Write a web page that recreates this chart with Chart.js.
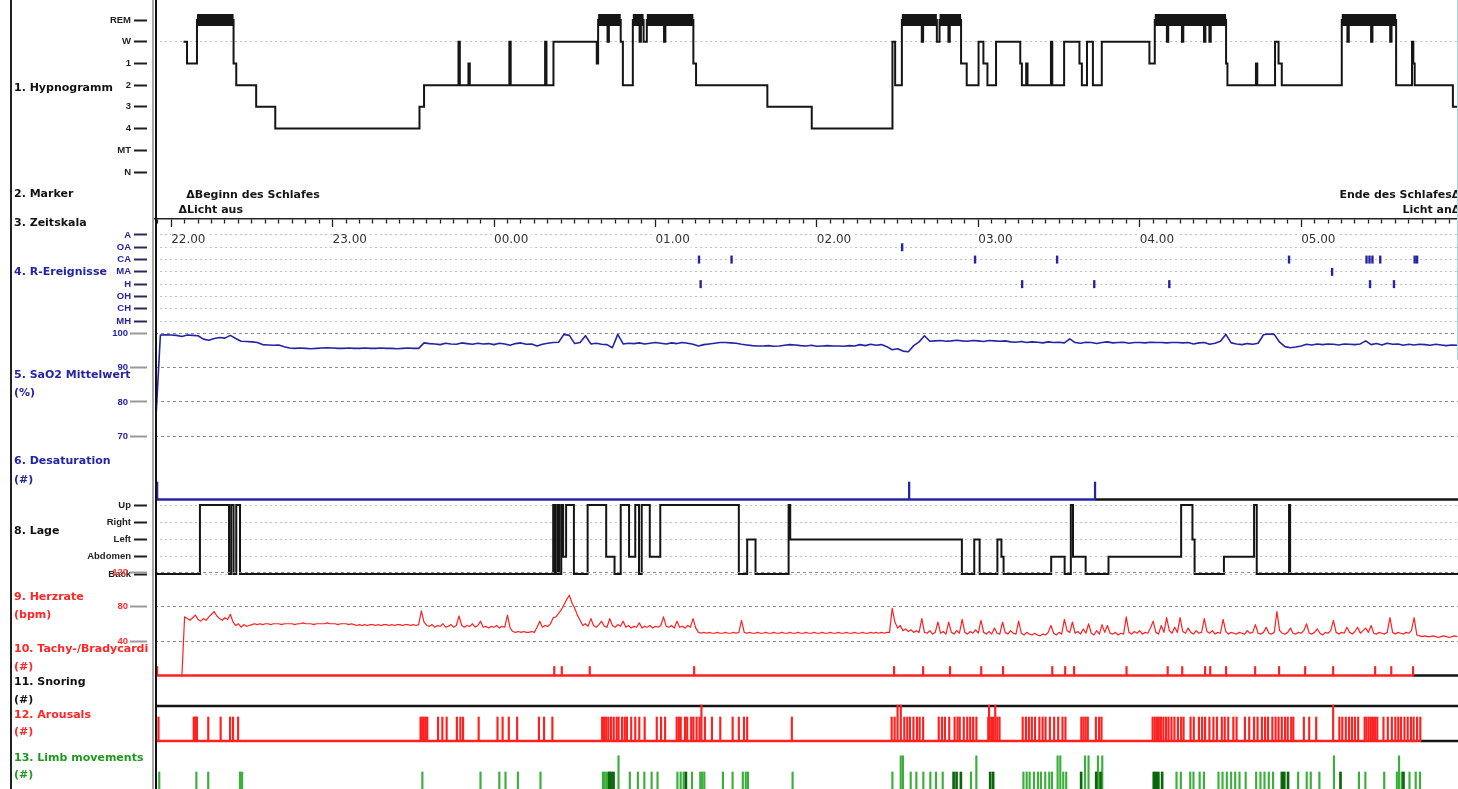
<!DOCTYPE html>
<html lang="de">
<head>
<meta charset="utf-8">
<title>Polysomnographie – Nachtübersicht</title>
<script src="https://cdn.jsdelivr.net/npm/chart.js@4.4.1/dist/chart.umd.min.js"></script>
<style>
  html, body { margin: 0; padding: 0; background: #fff; }
  #sheet { position: relative; width: 1458px; height: 789px; overflow: hidden; background: #fff; }
  #sheet canvas { position: absolute; left: 0; }
  .rule { position: absolute; top: 0; height: 789px; z-index: 8; }
  .track { position: absolute; left: 14px; width: 134px; overflow: hidden; white-space: nowrap;
           font: bold 11px "DejaVu Sans", sans-serif; line-height: 14px; z-index: 9; }
  .blk { color: #111; } .blu { color: #2424a4; } .red { color: #ff2626; } .grn { color: #1f991f; }
</style>
</head>
<body>
<div id="sheet">
  <div class="rule" style="left:10px;width:1.5px;background:#222"></div>
  <div class="rule" style="left:152px;width:2px;background:#a8a8a8"></div>
  <div class="rule" style="left:155px;width:2px;background:#111"></div>
  <div class="rule" style="left:1457px;width:1px;height:360px;background:#9fdde4"></div>

  <div class="track blk" style="top:81px">1. Hypnogramm</div>
  <div class="track blk" style="top:187px">2. Marker</div>
  <div class="track blk" style="top:216px">3. Zeitskala</div>
  <div class="track blu" style="top:265px">4. R-Ereignisse</div>
  <div class="track blu" style="top:368px">5. SaO2 Mittelwert</div>
  <div class="track blu" style="top:386px">(%)</div>
  <div class="track blu" style="top:454px">6. Desaturation</div>
  <div class="track blu" style="top:473px">(#)</div>
  <div class="track blk" style="top:524px">8. Lage</div>
  <div class="track red" style="top:590px">9. Herzrate</div>
  <div class="track red" style="top:608px">(bpm)</div>
  <div class="track red" style="top:642px">10. Tachy-/Bradycardie</div>
  <div class="track red" style="top:660px">(#)</div>
  <div class="track blk" style="top:675px">11. Snoring</div>
  <div class="track blk" style="top:693px">(#)</div>
  <div class="track red" style="top:708px">12. Arousals</div>
  <div class="track red" style="top:725px">(#)</div>
  <div class="track grn" style="top:751px">13. Limb movements</div>
  <div class="track grn" style="top:768px">(#)</div>
</div>

<script>
// All times are minutes after 22:00.
const timeMin = -6;
const timeMax = 478.3;

// 1. Hypnogramm: start of each scored segment and its stage
const stageNames = ['N', 'MT', '4', '3', '2', '1', 'W', 'REM'];
const hypTimes = [4.6, 5.9, 9.6, 23.2, 24.2, 31.6, 38.7, 92.3, 94.0,
  106.8, 107.3, 110.5, 111.0, 125.7, 126.2, 139.0, 139.5,
  142.1, 158.2, 158.7, 162.2, 162.7, 167.1, 167.9,
  171.6, 174.1, 174.6, 175.6, 176.8, 183.2, 183.7,
  194.1, 195.1, 221.6, 238.1, 268.1, 269.1,
  271.6, 279.0, 279.5, 284.6, 285.6, 288.9, 289.4,
  293.6, 295.7, 300.1, 301.9, 303.4, 306.6, 315.6, 316.2,
  317.8, 318.3, 327.0, 327.5, 331.9, 337.6, 338.5, 340.4,
  342.6, 345.9, 363.6, 365.6, 370.1, 370.6, 375.7, 376.2,
  383.9, 384.4, 385.9, 386.4, 392.1, 392.6, 403.2, 403.7,
  410.3, 411.6, 412.8, 435.1, 437.2, 437.7, 446.0, 446.5,
  453.1, 453.6, 455.3, 461.2, 461.7, 462.2, 476.4];
const hypStages = ['W', '1', 'REM', '1', '2', '3', '4', '3', '2',
  'W', '2', '1', '2', 'W', '2', 'W', '2',
  'W', '1', 'REM', 'W', 'REM', 'W', '2',
  'REM', 'W', 'REM', 'W', 'REM', 'W', 'REM',
  '1', '2', '3', '4', 'W', '2',
  'REM', 'W', 'REM', 'W', 'REM', 'W', 'REM',
  '1', '2', 'W', '1', '2', 'W', '1', '2',
  '1', '2', 'W', '2', 'W', '1', '2', 'W',
  '2', 'W', '1', 'REM', 'W', 'REM', 'W', 'REM',
  'W', 'REM', 'W', 'REM', '1', '2', '1', '2',
  'W', '1', '2', 'REM', 'W', 'REM', 'W', 'REM',
  'W', 'REM', '2', 'W', '1', '2', '3'];

// 2. Marker
const sleepMarkTimes = [7.2, 477.6];
const sleepMarkTexts = ['Beginn des Schlafes', 'Ende des Schlafes'];
const lightMarkTimes = [4.3, 477.6];
const lightMarkTexts = ['Licht aus', 'Licht an'];

// 4. R-Ereignisse (respiratory events per type)
const respTypes = ['MH', 'CH', 'OH', 'H', 'MA', 'CA', 'OA', 'A'];
const eventsA = [];
const eventsOA = [271.7];
const eventsCA = [196.2, 208.3, 298.8, 329.3, 415.5, 444.3, 445.4, 446.5, 449.4, 462.2, 463.1];
const eventsMA = [431.5];
const eventsH = [196.8, 316.3, 343.1, 371.0, 445.6, 454.5];
const eventsOH = [];
const eventsCH = [];
const eventsMH = [];

// 5. SaO2 mean (%), one value every 2 minutes from saStart
const saStart = -6;
const saStep = 2;
const saValues = [
  70, 99.6, 99.7, 99.6, 99.5, 99.2, 99.6, 99.5, 99.4, 98.4,
  98.1, 98.6, 98.9, 98.7, 99.5, 98.6, 97.8, 97.7, 97.6, 97.4,
  96.8, 96.7, 96.6, 96.7, 96.2, 95.8, 95.7, 95.8, 95.7, 95.6,
  95.7, 95.8, 95.9, 95.8, 95.7, 95.7, 95.8, 95.7, 95.7, 95.8,
  95.7, 95.7, 95.8, 95.7, 95.7, 95.6, 95.7, 95.8, 95.7, 95.7,
  97.3, 97.1, 97.0, 96.8, 97.2, 97.0, 96.9, 97.3, 97.1, 96.9,
  97.2, 97.0, 97.1, 96.8, 97.2, 97.0, 96.6, 97.1, 97.3, 96.9,
  97.0, 96.4, 96.9, 97.2, 97.4, 97.5, 99.8, 99.5, 97.1, 97.4,
  99.4, 97.0, 97.2, 96.9, 96.8, 95.9, 99.8, 97.0, 97.2, 97.1,
  97.3, 97.0, 97.2, 97.4, 97.2, 97.0, 97.3, 97.1, 97.4, 97.2,
  96.9, 96.4, 96.8, 97.0, 97.2, 97.4, 97.4, 97.3, 97.2, 96.9,
  96.7, 96.5, 96.4, 96.4, 96.5, 96.3, 96.4, 96.6, 96.8, 96.7,
  96.5, 96.4, 96.6, 96.3, 96.4, 96.5, 96.4, 96.4, 96.3, 96.5,
  96.4, 96.8, 96.5, 96.9, 96.6, 96.8, 96.2, 95.3, 95.6, 94.9,
  94.7, 96.5, 97.6, 99.4, 97.8, 97.9, 98.0, 97.8, 97.9, 98.1,
  97.9, 97.8, 98.0, 97.9, 97.7, 98.0, 97.9, 97.8, 97.9, 97.6,
  97.5, 97.7, 97.4, 97.6, 97.5, 97.3, 97.6, 97.4, 97.5, 97.3,
  98.5, 97.4, 97.2, 97.5, 97.4, 97.1, 97.4, 97.6, 97.3, 97.4,
  97.5, 97.2, 97.4, 97.4, 97.3, 97.5, 97.4, 97.4, 97.3, 97.4,
  97.4, 97.3, 97.4, 97.0, 97.3, 97.4, 96.9, 97.2, 97.8, 99.8,
  97.3, 97.0, 96.8, 97.1, 96.9, 97.2, 99.7, 99.9, 99.8, 97.5,
  96.2, 95.9, 96.1, 96.4, 96.9, 96.7, 97.0, 96.8, 97.0, 96.9,
  96.7, 97.0, 96.9, 96.8, 97.0, 97.9, 96.8, 97.1, 96.7, 97.2,
  96.9, 97.0, 96.6, 96.9, 96.7, 96.9, 96.8, 96.6, 96.9, 96.7,
  96.5, 96.7, 96.6];

// 6. Desaturation events
const desatTimes = [-5.2, 274.3, 343.4];

// 8. Lage (body position): start of each position
const positionNames = ['Back', 'Abdomen', 'Left', 'Right', 'Up'];
const lageTimes = [-6, 10.7, 21.5, 22.3, 23.2, 24.2, 25.6, 142.0, 142.7, 143.5,
  144.2, 145.0, 145.7, 146.8, 149.7, 154.8, 161.7, 164.8, 167.1, 170.2,
  172.5, 173.9, 174.9, 177.9, 181.8, 211.0, 214.1, 217.2, 229.5, 230.1,
  293.9, 298.5, 300.5, 307.1, 308.6, 309.4, 327.1, 332.1, 334.4, 335.2,
  339.9, 348.4, 375.4, 379.6, 380.4, 391.3, 402.5, 403.5, 415.5, 415.9];
const lagePositions = ['Back', 'Up', 'Back', 'Up', 'Back', 'Up', 'Back', 'Up', 'Back', 'Up',
  'Back', 'Up', 'Abdomen', 'Up', 'Back', 'Up', 'Abdomen', 'Back', 'Up', 'Abdomen',
  'Up', 'Back', 'Up', 'Abdomen', 'Up', 'Back', 'Left', 'Back', 'Up', 'Left',
  'Back', 'Left', 'Back', 'Left', 'Abdomen', 'Back', 'Abdomen', 'Back', 'Up', 'Abdomen',
  'Back', 'Abdomen', 'Up', 'Left', 'Back', 'Abdomen', 'Up', 'Back', 'Up', 'Back'];

// 9. Herzrate (bpm), one value per minute from hrStart
const hrStart = -6;
const hrStep = 1;
const hrValues = [
  0, 0, 0, 0, 0, 0, 0, 0, 0, 0,
  0, 68, 66, 64, 67, 70, 65, 63, 66, 64,
  68, 71, 74, 69, 66, 64, 67, 65, 71, 62,
  58, 60, 56, 59, 57, 58, 59, 60, 59, 60,
  59, 60, 60, 59, 60, 60, 60, 59, 60, 60,
  60, 60, 59, 60, 60, 61, 60, 60, 60, 59,
  60, 60, 60, 60, 61, 60, 60, 60, 59, 60,
  60, 60, 59, 60, 59, 58, 59, 58, 59, 58,
  59, 59, 58, 59, 58, 59, 59, 58, 59, 58,
  59, 59, 58, 59, 59, 58, 59, 58, 59, 75,
  62, 58, 57, 59, 56, 58, 57, 60, 56, 57,
  59, 56, 58, 69, 58, 56, 58, 57, 60, 56,
  58, 63, 56, 57, 55, 57, 56, 58, 55, 57,
  56, 70, 55, 51, 50, 51, 50, 51, 50, 50,
  51, 50, 56, 63, 56, 58, 57, 60, 67, 68,
  72, 76, 82, 88, 93, 84, 78, 70, 64, 58,
  60, 57, 66, 58, 56, 59, 63, 57, 56, 66,
  58, 56, 59, 57, 63, 56, 58, 55, 57, 56,
  61, 55, 57, 56, 58, 55, 57, 56, 58, 68,
  57, 56, 58, 55, 63, 56, 57, 55, 58, 56,
  66, 55, 50, 49, 50, 49, 50, 49, 49, 50,
  49, 49, 50, 49, 49, 50, 49, 50, 64, 50,
  49, 50, 49, 49, 50, 49, 49, 50, 49, 49,
  50, 49, 49, 50, 49, 49, 50, 49, 49, 50,
  49, 49, 50, 49, 49, 50, 49, 49, 50, 49,
  49, 50, 49, 49, 50, 49, 49, 50, 49, 49,
  50, 49, 49, 50, 49, 49, 50, 49, 50, 49,
  50, 49, 50, 50, 78, 62, 55, 58, 52, 54,
  51, 53, 50, 52, 50, 66, 50, 49, 52, 48,
  50, 62, 49, 51, 48, 62, 50, 48, 52, 49,
  65, 50, 48, 51, 49, 53, 49, 64, 50, 48,
  51, 48, 55, 49, 48, 62, 50, 48, 52, 49,
  48, 63, 49, 47, 50, 48, 47, 49, 47, 46,
  48, 47, 50, 58, 49, 47, 50, 48, 65, 52,
  50, 62, 49, 51, 48, 54, 49, 60, 49, 47,
  52, 48, 59, 50, 58, 49, 48, 50, 47, 49,
  48, 68, 50, 48, 51, 49, 52, 48, 50, 49,
  55, 63, 50, 48, 58, 50, 67, 52, 49, 56,
  50, 67, 51, 49, 55, 50, 48, 52, 49, 50,
  66, 51, 49, 52, 48, 50, 49, 65, 51, 48,
  50, 49, 48, 50, 49, 48, 52, 49, 50, 59,
  49, 48, 50, 56, 49, 48, 50, 74, 52, 49,
  48, 50, 55, 49, 48, 50, 49, 52, 60, 49,
  48, 50, 54, 49, 47, 50, 49, 52, 64, 50,
  48, 50, 49, 56, 50, 48, 51, 56, 49, 52,
  55, 50, 58, 49, 48, 50, 49, 48, 50, 67,
  50, 48, 50, 49, 48, 50, 49, 52, 67, 47,
  46, 45, 46, 45, 45, 46, 45, 44, 45, 46,
  45, 44, 45, 46, 45];

// 10. Tachy-/Bradycardie events
const tachyTimes = [-5.2, 142.4, 145.2, 155.6, 194.4, 268.7, 279.5, 289.5, 301.1, 309.2,
  327.5, 332.3, 335.6, 355.1, 370.4, 375.8, 384.3, 386.2, 392.1, 402.9,
  411.8, 421.5, 431.9, 447.5, 453.5, 461.6];

// 11. Snoring events
const snoringTimes = [];

// 12. Arousals (regular and long markers)
const arousalTimes = [-4.7, 8.4, 8.8, 9.3, 9.6, 13.8, 18.4, 21.9, 23.0, 24.9,
  92.7, 93.3, 93.9, 94.6, 95.2, 99.2, 100.8, 102.4, 106.2, 107.5, 108.5, 114.3,
  121.3, 123.2, 125.5, 128.6, 136.7, 138.6, 141.7,
  160.2, 160.9, 161.7, 162.5, 163.5, 164.5, 165.6, 166.3, 167.6, 168.6, 169.4,
  171.0, 172.5, 174.0, 176.0, 180.5, 182.1, 183.6,
  187.9, 188.7, 189.4, 191.0, 191.8, 193.3, 194.1, 195.3, 196.4, 198.4,
  201.0, 204.1, 208.7, 211.0, 212.9, 214.1, 230.7,
  267.8, 268.9, 272.5, 273.6, 274.6, 275.9, 277.2, 278.2, 279.5,
  285.3, 286.5, 287.6, 289.2, 291.2, 292.3, 293.1, 294.6, 295.9, 297.0, 298.1, 299.3,
  303.7, 304.8, 305.5, 307.1, 307.9,
  316.5, 317.7, 318.8, 319.9, 321.1, 322.7, 323.9, 325.0, 326.6, 328.2, 329.7, 331.3, 332.4,
  338.3, 339.1, 339.9, 340.7, 343.7, 344.9, 345.8,
  364.8, 365.6, 366.4, 367.1, 367.9, 368.8, 369.8, 370.7, 371.8, 372.9, 374.2, 375.4, 376.3,
  378.9, 380.1, 382.0, 383.2, 384.3, 385.9, 387.4, 388.7, 390.5, 391.6, 392.9, 394.8, 396.0,
  399.1, 400.7, 402.5, 403.8, 405.4, 406.6, 407.7, 409.3, 410.5, 411.6, 412.8, 414.0, 415.0,
  416.3, 417.1, 421.0, 423.0, 425.6,
  434.2, 435.3, 436.6, 437.8, 438.9, 440.0, 441.2, 443.6, 444.3, 445.1, 445.9, 446.7, 447.5,
  448.3, 450.6, 452.2, 453.7, 455.0, 456.1, 457.1, 458.4, 459.6, 460.8, 461.8, 463.1, 464.3];
const arousalLongTimes = [197.1, 270.0, 271.2, 304.0, 306.3, 431.9];

// 13. Limb movements (regular, long and dense clusters)
const limbTimes = [-4.7, 9.1, 13.5, 25.3, 26.1, 93.1, 114.7, 121.7, 124.0, 128.6, 137.0,
  160.2, 160.9, 161.7, 162.5, 170.2, 173.2, 175.6, 178.3, 180.5,
  187.9, 189.1, 190.2, 193.3, 196.4, 197.1, 197.9, 204.8, 208.4, 212.2, 213.3, 214.1, 230.7,
  267.8, 274.6, 276.7, 279.3, 281.9, 284.0, 286.5, 297.0,
  316.5, 317.7, 318.8, 320.4, 321.9, 323.0, 324.6, 326.1, 327.1, 331.3, 332.4,
  373.4, 375.0, 378.5, 379.7, 382.0, 383.6, 389.0, 390.5, 392.1, 393.7, 395.2, 396.8, 399.1,
  403.0, 404.6, 406.1, 407.7, 409.3, 418.6, 421.8, 423.3, 426.5,
  441.2, 443.6, 450.6, 455.3, 457.1, 460.0, 462.3, 463.9];
const limbLongTimes = [166.0, 270.9, 271.7, 299.0, 329.2, 330.2, 339.4, 340.7, 344.2, 345.8, 431.9, 456.1];
const limbDenseTimes = [163.2, 164.0, 164.8, 191.7, 291.2, 292.3, 293.9, 304.8, 305.9, 338.6,
  344.2, 345.8, 365.6, 366.4, 367.3, 368.7, 413.2, 414.1, 415.5, 435.0, 458.4];

// ---------------------------------------------------------------------------
const BLUE = '#2424a4';
const RED = '#ff2020';
const INK = '#151515';
const tickFont = { family: 'Liberation Sans', size: 9.5, weight: 'bold' };

// min/max of a y axis so that value vHi sits at page row pxHi and vLo at pxLo
function yRange(top, bottom, vHi, pxHi, vLo, pxLo) {
  const perPx = (vHi - vLo) / (pxLo - pxHi);
  return { min: vLo - (bottom - pxLo) * perPx, max: vHi + (pxHi - top) * perPx };
}

function hiddenX() {
  return { type: 'linear', min: timeMin, max: timeMax, display: false, offset: false, grid: { offset: false } };
}

function fixWidth(s) { s.width = 155; s.paddingTop = 0; s.paddingBottom = 0; }

function blankY(r) {
  return { type: 'linear', position: 'left', min: r.min, max: r.max, stacked: false,
    afterFit: fixWidth, ticks: { display: false }, grid: { display: false }, border: { display: false } };
}

function labeledY(r, o) {
  return {
    type: 'linear', position: 'left', min: r.min, max: r.max, stacked: false,
    afterFit: fixWidth,
    afterBuildTicks: s => { s.ticks = o.values.map(v => ({ value: v })); },
    ticks: { autoSkip: false, padding: o.pad ?? 3, color: o.color, font: tickFont, callback: o.label },
    grid: {
      drawOnChartArea: true, drawTicks: true,
      tickLength: o.tickLength ?? 21, tickWidth: 2, tickColor: o.tickColor ?? '#333',
      tickBorderDash: o.tickDash ?? [13, 30],
      color: o.gridColor, lineWidth: 1
    },
    border: { display: false, dash: o.dash }
  };
}

const sheet = document.getElementById('sheet');
function panel(top, height, z, config, padTop) {
  const c = document.createElement('canvas');
  c.width = 1458; c.height = height;
  c.style.top = top + 'px';
  c.style.zIndex = z;
  sheet.appendChild(c);
  config.options = Object.assign({
    responsive: false, animation: false, events: [],
    layout: { padding: { top: padTop || 0, left: 0, right: 0, bottom: 0 }, autoPadding: false },
    plugins: { legend: { display: false }, tooltip: { enabled: false } }
  }, config.options);
  return new Chart(c.getContext('2d'), config);
}

const at = (times, y) => times.map(t => ({ x: t, y }));
const sorted = pts => pts.slice().sort((a, b) => a.x - b.x);

// colored counter baseline up to the last event, black afterwards
function baseline(times, color) {
  const last = times.length ? Math.max(...times) : timeMin;
  const common = { type: 'line', pointRadius: 0, borderWidth: 2.6, order: 2 };
  return [
    Object.assign({ data: [{ x: timeMin, y: 0 }, { x: last, y: 0 }], borderColor: color }, common),
    Object.assign({ data: [{ x: last, y: 0 }, { x: timeMax, y: 0 }], borderColor: INK }, common)
  ];
}

function bars(points, color, thickness) {
  return { type: 'bar', data: sorted(points), backgroundColor: color, barThickness: thickness,
    borderWidth: 0, order: 1 };
}

const clockLabel = m => String((22 + Math.round(m / 60)) % 24).padStart(2, '0') + '.00';

// ---- 1. Hypnogramm + 2. Marker + 3. Zeitskala ----
const REM = stageNames.indexOf('REM');
const hypPoints = hypTimes.map((t, i) => ({ x: t, y: stageNames.indexOf(hypStages[i]) }));
hypPoints.push({ x: timeMax, y: stageNames.indexOf(hypStages[hypStages.length - 1]) });

// REM periods as a solid band; wake blips under one epoch do not split a period
const remBand = [];
let runStart = null, runEnd = null;
hypTimes.forEach((t, i) => {
  const end = i + 1 < hypTimes.length ? hypTimes[i + 1] : timeMax;
  const s = hypStages[i];
  const bridge = s === 'W' && runStart !== null && end - t < 0.8 && hypStages[i + 1] === 'REM';
  if (s === 'REM' || bridge) {
    if (runStart === null) runStart = t;
    runEnd = end;
  } else if (runStart !== null) {
    remBand.push({ x: runStart, y: REM }, { x: runEnd, y: REM }, { x: runEnd, y: null });
    runStart = null;
  }
});
if (runStart !== null) remBand.push({ x: runStart, y: REM }, { x: runEnd, y: REM });

const markerPlugin = {
  id: 'sleepMarkers',
  afterDraw(chart) {
    const { ctx, chartArea } = chart;
    const x = chart.scales.x;
    ctx.save();
    ctx.font = 'bold 11px "DejaVu Sans"';
    ctx.fillStyle = INK;
    ctx.textBaseline = 'middle';
    const tri = '\u0394';
    const half = ctx.measureText(tri).width / 2;
    const mid = (x.min + x.max) / 2;
    [[sleepMarkTimes, sleepMarkTexts, chartArea.bottom - 24],
     [lightMarkTimes, lightMarkTexts, chartArea.bottom - 9]].forEach(([times, texts, y]) => {
      times.forEach((t, i) => {
        const px = x.getPixelForValue(t);
        if (t < mid) { ctx.textAlign = 'left'; ctx.fillText(tri + texts[i], px - half, y); }
        else { ctx.textAlign = 'right'; ctx.fillText(texts[i] + tri, px + half, y); }
      });
    });
    ctx.restore();
  }
};

{
  const r = yRange(4, 219, REM, 20, 0, 172);
  panel(0, 260, 4, {
    type: 'line',
    plugins: [markerPlugin],
    data: { datasets: [
      { data: remBand, borderColor: INK, borderWidth: 12, pointRadius: 0, spanGaps: false, borderCapStyle: 'butt' },
      { data: hypPoints, stepped: 'before', borderColor: INK, borderWidth: 2, pointRadius: 0 }
    ] },
    options: { scales: {
      x: {
        type: 'linear', position: 'bottom', min: timeMin, max: timeMax, offset: false,
        afterFit: s => { s.height = 41; s.paddingLeft = 0; s.paddingRight = 0; },
        ticks: {
          stepSize: 5, includeBounds: false, autoSkip: false, maxRotation: 0, minRotation: 0,
          align: 'start', padding: 6, color: '#333', font: { family: 'DejaVu Sans', size: 12 },
          callback: v => (v % 60 === 0 ? clockLabel(v) : ''),
          showLabelBackdrop: c => c.tick.value % 60 === 0,
          backdropColor: '#fff', backdropPadding: { top: 0, bottom: 0, left: 0, right: 3 }
        },
        grid: {
          offset: false, drawOnChartArea: false, drawTicks: true, tickLength: 8, tickWidth: 1.3,
          tickColor: '#222', tickBorderDash: c => (c.tick && c.tick.value % 60 === 0 ? [] : [4, 10])
        },
        border: { display: true, color: '#222', width: 1.5 }
      },
      y: labeledY(r, {
        values: stageNames.map((_, i) => i), label: v => stageNames[v], color: '#1e1e1e',
        tickColor: '#1e1e1e', dash: [2, 3],
        gridColor: c => (c.tick.value === stageNames.indexOf('W') ? '#c4c4c4' : 'rgba(0,0,0,0)')
      })
    } }
  }, 4);
}

// ---- 4. R-Ereignisse ----
{
  const r = yRange(219, 329, 8, 235, 1, 321);
  const lists = [eventsMH, eventsCH, eventsOH, eventsH, eventsMA, eventsCA, eventsOA, eventsA];
  const pts = [];
  lists.forEach((list, i) => list.forEach(t => pts.push({ x: t, y: i + 1 })));
  panel(219, 110, 2, {
    type: 'line',
    data: { datasets: [{
      data: sorted(pts), showLine: false, pointStyle: 'line', pointRotation: 90,
      pointRadius: 4, pointBorderWidth: 2.4, pointBorderColor: BLUE, pointBackgroundColor: BLUE
    }] },
    options: { scales: {
      x: hiddenX(),
      y: labeledY(r, { values: respTypes.map((_, i) => i + 1), label: v => respTypes[v - 1],
        color: BLUE, tickColor: '#2a2a5a', dash: [2, 3], gridColor: '#c4c4c4' })
    } }
  });
}

// ---- 5. SaO2 Mittelwert ----
{
  const r = yRange(329, 440, 100, 333.7, 70, 436);
  panel(329, 111, 2, {
    type: 'line',
    data: { datasets: [{
      data: saValues.map((v, i) => ({ x: saStart + i * saStep, y: v })),
      borderColor: BLUE, borderWidth: 1.6, pointRadius: 0, borderJoinStyle: 'round'
    }] },
    options: { scales: {
      x: hiddenX(),
      y: labeledY(r, { values: [70, 80, 90, 100], label: v => String(v), color: BLUE,
        tickColor: '#9a9a9a', tickLength: 25, tickDash: [17, 30], pad: 2,
        dash: [3, 3], gridColor: '#8c8c8c' })
    } }
  });
}

// ---- 6. Desaturation ----
{
  const r = yRange(440, 503, 1, 482, 0, 499.5);
  panel(440, 63, 3, {
    type: 'line',
    data: { datasets: [bars(at(desatTimes, 1), BLUE, 1.6), ...baseline(desatTimes, BLUE)] },
    options: { scales: { x: hiddenX(), y: blankY(r) } }
  });
}

// ---- 8. Lage ----
{
  const r = yRange(500, 582, 5, 505, 1, 574);
  const pts = lageTimes.map((t, i) => ({ x: t, y: positionNames.indexOf(lagePositions[i]) + 1 }));
  pts.push({ x: timeMax, y: pts[pts.length - 1].y });
  panel(500, 82, 2, {
    type: 'line',
    data: { datasets: [{ data: pts, stepped: 'before', borderColor: INK, borderWidth: 2, pointRadius: 0 }] },
    options: { scales: {
      x: hiddenX(),
      y: labeledY(r, { values: [1, 2, 3, 4, 5], label: v => positionNames[v - 1], color: '#1e1e1e',
        tickColor: '#1e1e1e', dash: [2, 3], gridColor: '#c4c4c4' })
    } }
  });
}

// ---- 9. Herzrate ----
{
  const r = yRange(566, 678, 120, 572, 0, 675.5);
  panel(566, 112, 3, {
    type: 'line',
    data: { datasets: [{
      data: hrValues.map((v, i) => ({ x: hrStart + i * hrStep, y: v })),
      borderColor: RED, borderWidth: 1.2, pointRadius: 0, borderJoinStyle: 'round'
    }] },
    options: { scales: {
      x: hiddenX(),
      y: labeledY(r, { values: [40, 80, 120], label: v => String(v), color: '#ff3030',
        tickColor: '#9a9a9a', tickLength: 25, tickDash: [17, 30], pad: 2,
        dash: [3, 3], gridColor: '#8c8c8c' })
    } }
  });
}

// ---- 10. Tachy-/Bradycardie ----
{
  const r = yRange(650, 678, 1, 666.5, 0, 675.5);
  panel(650, 28, 3, {
    type: 'line',
    data: { datasets: [bars(at(tachyTimes, 1), RED, 1.5), ...baseline(tachyTimes, RED)] },
    options: { scales: { x: hiddenX(), y: blankY(r) } }
  });
}

// ---- 11. Snoring ----
{
  const r = yRange(680, 708, 1, 686, 0, 706);
  panel(680, 28, 2, {
    type: 'line',
    data: { datasets: [bars(at(snoringTimes, 1), INK, 1.5), ...baseline(snoringTimes, INK)] },
    options: { scales: { x: hiddenX(), y: blankY(r) } }
  });
}

// ---- 12. Arousals ----
{
  const r = yRange(695, 745, 1, 717, 0, 741);
  panel(695, 50, 3, {
    type: 'line',
    data: { datasets: [
      bars([...at(arousalTimes, 1), ...at(arousalLongTimes, 1.5)], RED, 1.5),
      ...baseline([...arousalTimes, ...arousalLongTimes], RED)
    ] },
    options: { scales: { x: hiddenX(), y: blankY(r) } }
  });
}

// ---- 13. Limb movements ----
{
  const r = yRange(745, 792, 1, 772, 0, 790);
  panel(745, 47, 2, {
    type: 'line',
    data: { datasets: [
      bars(at(limbDenseTimes, 1), '#0b650b', 2),
      bars([...at(limbTimes, 1), ...at(limbLongTimes, 1.9)], '#3cae3c', 1.5)
    ] },
    options: { scales: { x: hiddenX(), y: blankY(r) } }
  });
}
</script>
</body>
</html>
